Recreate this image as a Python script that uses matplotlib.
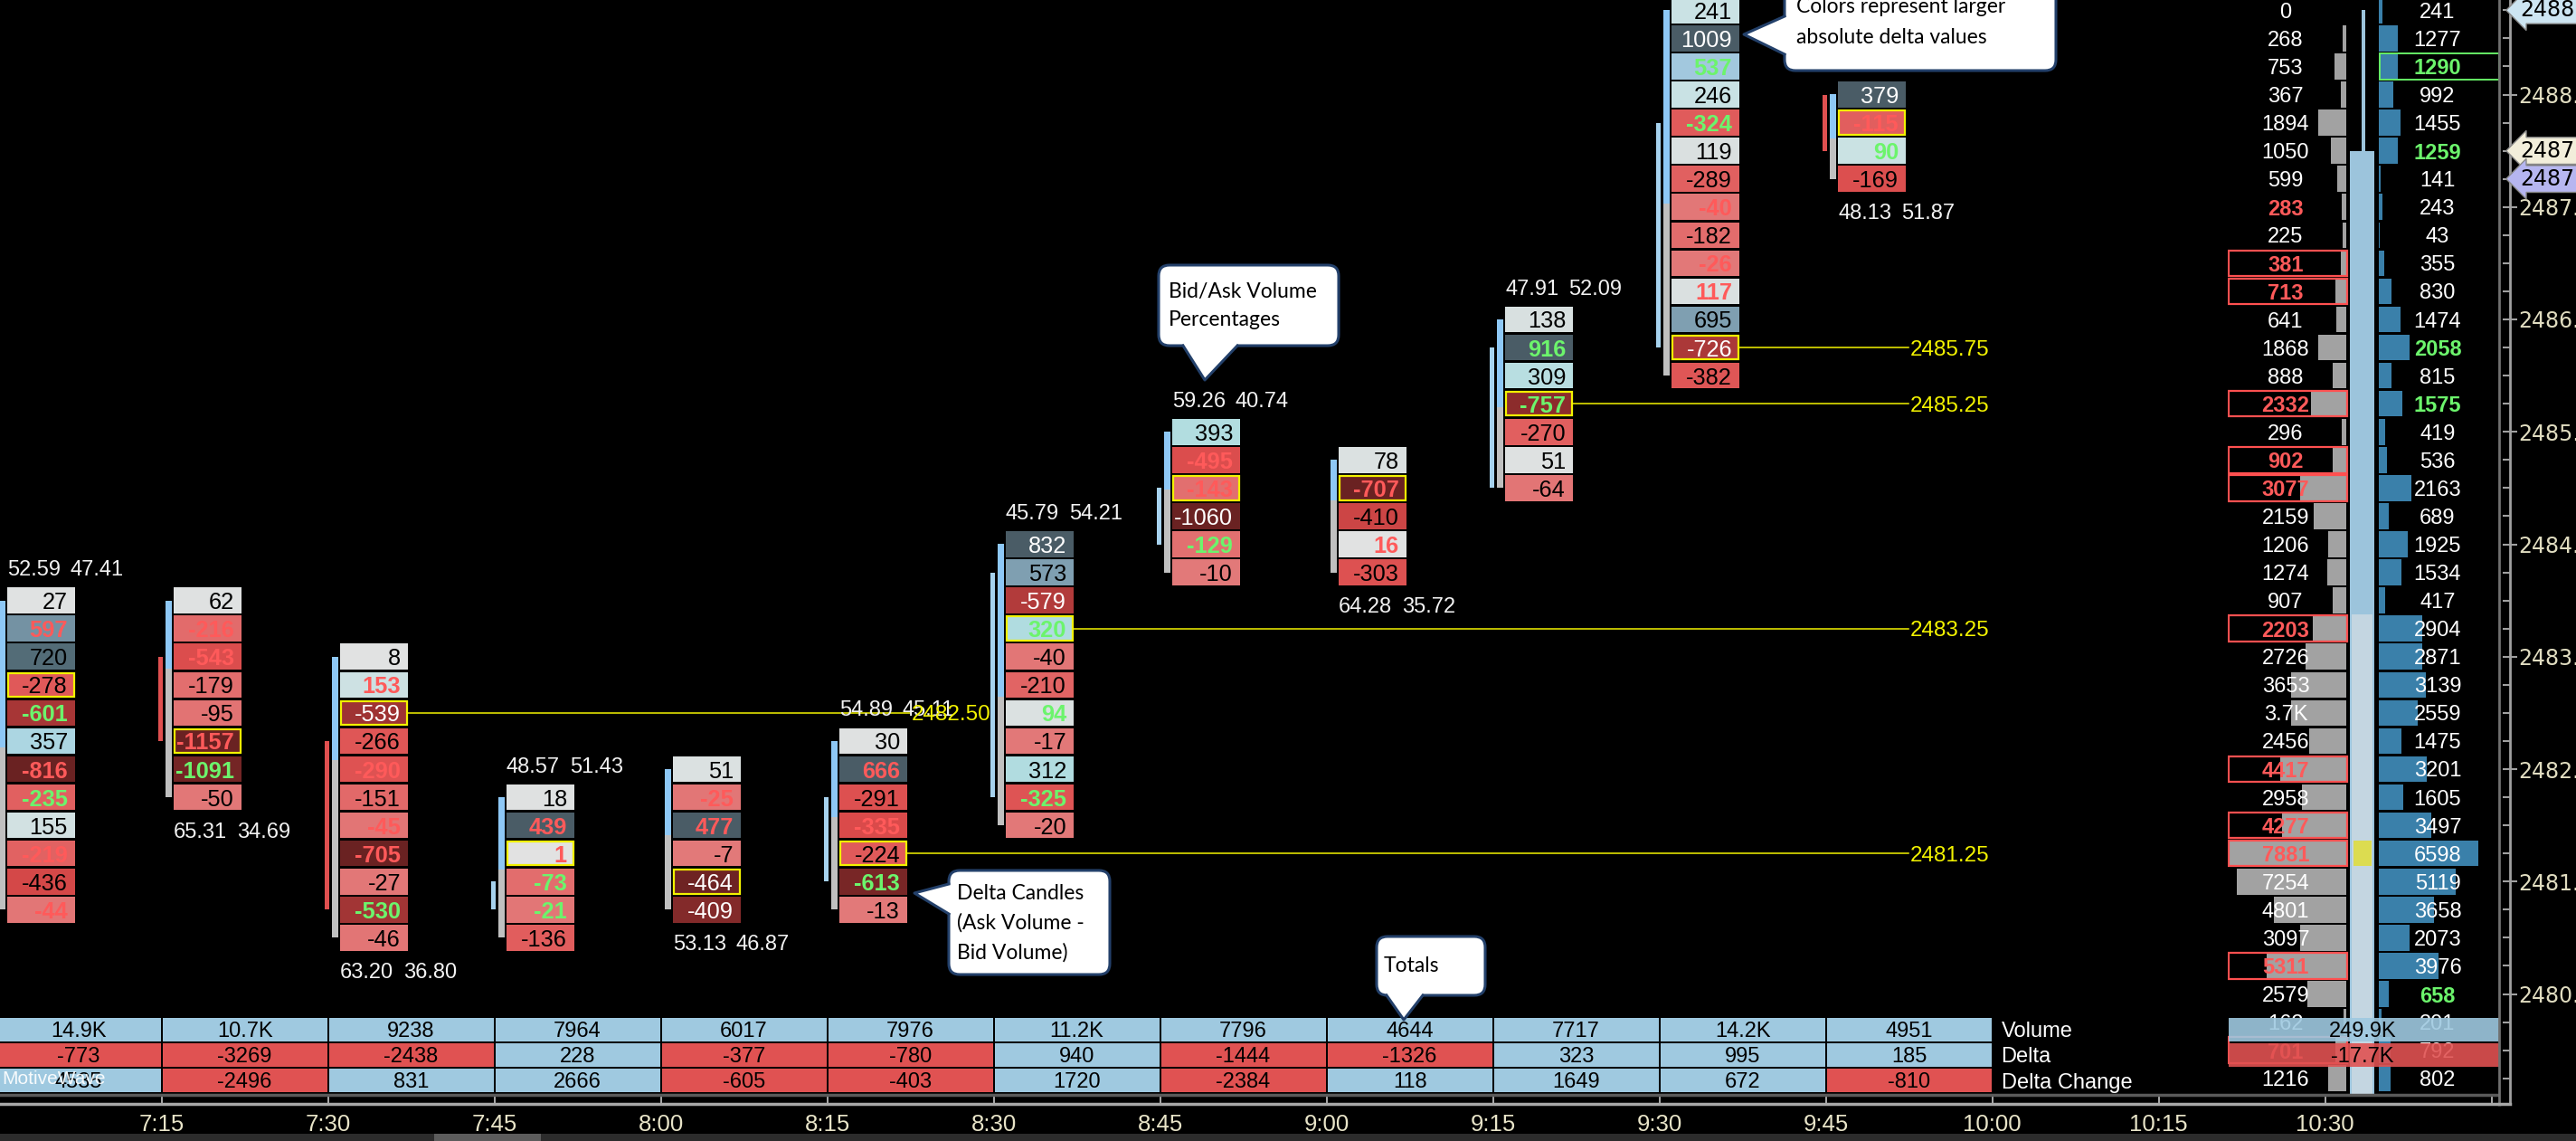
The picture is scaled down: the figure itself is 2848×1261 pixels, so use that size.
import numpy as np
import matplotlib.pyplot as plt
from matplotlib import font_manager
from matplotlib.colors import LinearSegmentedColormap
from matplotlib.patches import FancyBboxPatch, Polygon, Rectangle
from matplotlib.ticker import FormatStrFormatter
from matplotlib.transforms import blended_transform_factory

# footprint bars, one per 15 minutes
bar_start = ['7:00', '7:15', '7:30', '7:45', '8:00', '8:15',
             '8:30', '8:45', '9:00', '9:15', '9:30', '9:45']
bar_top = [2483.5, 2483.5, 2483.0, 2481.75, 2482.0, 2482.25,
           2484.0, 2485.0, 2484.75, 2486.0, 2488.75, 2488.0]
bar_delta = [
    [27, 597, 720, -278, -601, 357, -816, -235, 155, -219, -436, -44],
    [62, -216, -543, -179, -95, -1157, -1091, -50],
    [8, 153, -539, -266, -290, -151, -45, -705, -27, -530, -46],
    [18, 439, 1, -73, -21, -136],
    [51, -25, 477, -7, -464, -409],
    [30, 666, -291, -335, -224, -613, -13],
    [832, 573, -579, 320, -40, -210, 94, -17, 312, -325, -20],
    [393, -495, -143, -1060, -129, -10],
    [78, -707, -410, 16, -303],
    [138, 916, 309, -757, -270, 51, -64],
    [241, 1009, 537, 246, -324, 119, -289, -40, -182, -26, 117, 695, -726, -382],
    [379, -115, 90, -169],
]
# imbalance per cell: s = sell (red text), b = buy (green text)
bar_marks = ['.s..b.sb.s.s', '.ss..sb.', '.s..s.ss.b.', '.ssbb.', '.ss...',
             '.s.s.b.', '...b..b..b.', '.ss.b.', '.s.s.', '.b.b...',
             '..b.b..s.ss...', '.sb.']
poc_idx = [3, 5, 2, 2, 4, 4, 3, 2, 1, 3, 12, 1]
bid_pct = [52.59, 65.31, 63.20, 48.57, 53.13, 54.89, 45.79, 59.26, 64.28, 47.91, 47.02, 48.13]
ask_pct = [47.41, 34.69, 36.80, 51.43, 46.87, 45.11, 54.21, 40.74, 35.72, 52.09, 52.98, 51.87]
pct_above = [True, False, False, True, False, True, True, True, False, True, True, False]
# delta candles
dc_hi = [None, 2483.0, 2482.25, 2481.0, None, 2481.75, 2483.75, 2484.5, None, 2485.75, 2487.75, 2488.0]
dc_lo = [None, 2482.25, 2480.75, 2480.75, None, 2481.0, 2481.75, 2484.0, None, 2484.5, 2485.75, 2487.5]
dc_up = [None, False, False, True, None, True, True, True, None, True, True, False]
# naked POC lines: source bar -> last bar
naked_from = [2, 5, 6, 9, 10]
naked_until = [5, 11, 11, 11, 11]

# totals table
tot_volume = [14900, 10700, 9238, 7964, 6017, 7976, 11200, 7796, 4644, 7717, 14200, 4951]
tot_delta = [-773, -3269, -2438, 228, -377, -780, 940, -1444, -1326, 323, 995, 185]
tot_change = [4535, -2496, 831, 2666, -605, -403, 1720, -2384, 118, 1649, 672, -810]
row_names = ['Volume', 'Delta', 'Delta Change']

# session volume profile
prof_top = 2488.75
prof_bid = [0, 268, 753, 367, 1894, 1050, 599, 283, 225, 381, 713, 641, 1868, 888,
            2332, 296, 902, 3077, 2159, 1206, 1274, 907, 2203, 2726, 3653, 3700,
            2456, 4417, 2958, 4277, 7881, 7254, 4801, 3097, 5311, 2579, 162, 701, 1216]
prof_ask = [241, 1277, 1290, 992, 1455, 1259, 141, 243, 43, 355, 830, 1474, 2058, 815,
            1575, 419, 536, 2163, 689, 1925, 1534, 417, 2904, 2871, 3139, 2559,
            1475, 3201, 1605, 3497, 6598, 5119, 3658, 2073, 3976, 658, 201, 792, 802]
prof_bid_flag = '.......r.BB...B.BB....B....B.BB...B..B.'
prof_ask_flag = '..G..g......g.g....................g...'
prof_total_volume = 249900
prof_total_delta = -17700
prof_high = 2488.75
prof_open = 2487.5
prof_va_high = 2483.25
prof_poc = 2481.25

time_ticks = ['7:15', '7:30', '7:45', '8:00', '8:15', '8:30', '8:45', '9:00',
              '9:15', '9:30', '9:45', '10:00', '10:15', '10:30', '10:45']
price_tags = [2488.75, 2487.5, 2487.25]
tag_colors = ['#cde5f2', '#f2eedb', '#b6b6f0']

# ---- fonts ----
names = {f.name for f in font_manager.fontManager.ttflist}
if 'Liberation Sans Narrow' in names:
    FAM, K = 'Liberation Sans Narrow', 1.2
else:
    FAM, K = 'Liberation Sans', 1.0
plt.rcParams['font.family'] = [FAM, 'DejaVu Sans']

RED_TXT = '#ff5a5a'
GREEN_TXT = '#6cf46c'
YELLOW = '#f2f200'
BLUE_CELL = '#9fc9e0'
RED_CELL = '#e05252'

W, H = 2848, 1261
fig = plt.figure(figsize=(W / 100, H / 100), dpi=100, facecolor='black')


def frame(x0, y0, x1, y1):
    return [x0 / W, 1 - y1 / H, (x1 - x0) / W, (y1 - y0) / H]


MPX = 15 / 184      # minutes per pixel
PPX = 1 / 124.25    # price per pixel


def tmin(s):
    h, m = s.split(':')
    return int(h) * 60 + int(m)


def fx(px):
    return tmin('7:15') + (px - 178.6) * MPX


def fy(py):
    return 2488.0 - (py - 104.5) * PPX


def kfmt(v):
    return f'{v / 1000:.1f}K' if abs(v) >= 10000 else str(v)


pos_cmap = LinearSegmentedColormap.from_list('pos', [
    (0, '#e2e2e2'), (0.15, '#d8e0e0'), (0.25, '#c8e2e4'), (0.38, '#b0dce0'),
    (0.5, '#a8d0e4'), (0.56, '#9ec2da'), (0.7, '#7d9cae'), (0.85, '#56707c'), (1, '#4a5c66')])
neg_cmap = LinearSegmentedColormap.from_list('neg', [
    (0, '#e27a7a'), (0.2, '#e26a6a'), (0.35, '#e05858'), (0.5, '#da4a4a'),
    (0.65, '#c04040'), (0.75, '#a33535'), (0.85, '#852a2a'), (1, '#6a2222')])

# ---- main price panel ----
ax = fig.add_axes(frame(0, 0, 2763, 1210))
ax.set_facecolor('black')
ax.set_xlim(fx(0), fx(2763))
ax.set_ylim(fy(1210), fy(0))
ax.set_xticks([])
ax.set_yticks([])
for s in ax.spines.values():
    s.set_visible(False)

cell_h = 0.25 - 2.5 * PPX
for i, t in enumerate(bar_start):
    t0 = tmin(t)
    d = np.array(bar_delta[i])
    prices = bar_top[i] - 0.25 * np.arange(len(d))
    ratio = d / np.abs(d).max()
    left = t0 + 13.4 * MPX
    colors = [pos_cmap(r) if r >= 0 else neg_cmap(-r) for r in ratio]
    ax.bar(np.full(len(d), left), cell_h, width=75 * MPX, bottom=prices - cell_h / 2,
           align='edge', color=colors, zorder=2)
    for p, v, r, m in zip(prices, d, ratio, bar_marks[i]):
        if m == 's':
            c, fw = RED_TXT, 'bold'
        elif m == 'b':
            c, fw = GREEN_TXT, 'bold'
        else:
            c = 'white' if (r < -0.65 or r > 0.95) else 'black'
            fw = 'normal'
        ax.text(left + 67 * MPX, p, str(v), ha='right', va='center_baseline',
                color=c, fontweight=fw, fontsize=18.3 * K, zorder=6, clip_on=True)
    # point of control box
    pp = prices[poc_idx[i]]
    ax.bar(left + 1 * MPX, cell_h - 2 * PPX, width=73 * MPX, bottom=pp - cell_h / 2 + PPX,
           align='edge', fill=False, edgecolor=YELLOW, lw=1.6, zorder=4)
    # bid/ask split bar
    top_c, bot_c = prices[0], prices[-1]
    split = top_c - (top_c - bot_c) * ask_pct[i] / 100
    ax.bar(t0 + 4 * MPX, top_c - split, width=7 * MPX, bottom=split, align='edge',
           color='#8ec8f6', zorder=2)
    ax.bar(t0 + 4 * MPX, split - bot_c, width=7 * MPX, bottom=bot_c, align='edge',
           color='#c0c0c0', zorder=2)
    # delta candle
    if dc_hi[i] is not None:
        ax.bar(t0 - 4 * MPX, dc_hi[i] - dc_lo[i], width=5 * MPX, bottom=dc_lo[i], align='edge',
               color='#a6d2ee' if dc_up[i] else '#e05050', zorder=2)
    # percentages
    py = top_c + 36 * PPX if pct_above[i] else bot_c - 36 * PPX
    ax.text(left, py, f'{bid_pct[i]:.2f}', ha='left', va='center_baseline', color='#f2f2f2',
            fontsize=17 * K, zorder=6, clip_on=True)
    ax.text(t0 + 83.4 * MPX, py, f'{ask_pct[i]:.2f}', ha='left', va='center_baseline',
            color='#f2f2f2', fontsize=17 * K, zorder=6, clip_on=True)

for b, e in zip(naked_from, naked_until):
    p = bar_top[b] - 0.25 * poc_idx[b]
    xs = tmin(bar_start[b]) + 88.4 * MPX
    xe = tmin(bar_start[e]) + 91.4 * MPX
    ax.plot([xs, xe], [p, p], color=YELLOW, lw=1.1, zorder=3)
    ax.text(xe + 2 * MPX, p, f'{p:.2f}', color=YELLOW, ha='left', va='center_baseline',
            fontsize=17.5 * K, zorder=7)

# ---- volume profile ----
PV = 1 / 0.01662
pax = fig.add_axes(frame(2463, 0, 2763, 1210))
pax.patch.set_alpha(0)
pax.set_xlim(-131 * PV, 169 * PV)
pax.set_ylim(ax.get_ylim())
pax.axis('off')
prof_price = prof_top - 0.25 * np.arange(len(prof_bid))
pax.barh(prof_price, -np.array(prof_bid), height=cell_h, left=0, color='#a2a2a2', zorder=2)
pax.barh(prof_price, prof_ask, height=cell_h, left=36 * PV, color='#3a80aa', zorder=2)
pax.bar(4 * PV, prof_open - 2479.0, width=27 * PV, bottom=2479.0, align='edge',
        color='#9cc4dc', zorder=1)
pax.bar(6 * PV, prof_va_high + 0.125 - 2479.0, width=23 * PV, bottom=2479.0, align='edge',
        color='#c4d6e1', zorder=1)
pax.bar(17 * PV, prof_high - prof_open, width=4 * PV, bottom=prof_open, align='edge',
        color='#9cc4dc', zorder=1)
pax.bar(8 * PV, cell_h, width=20 * PV, bottom=prof_poc - cell_h / 2, align='edge',
        color='#dcdc50', zorder=2)
bid_txt = [str(v) for v in prof_bid]
bid_txt[25] = '3.7K'
for p, bt, a, fb, fa in zip(prof_price, bid_txt, prof_ask, prof_bid_flag, prof_ask_flag):
    hot = fb in 'rB'
    pax.text(-67 * PV, p, bt, ha='center', va='center_baseline', fontsize=17 * K,
             color=RED_TXT if hot else 'white', fontweight='bold' if hot else 'normal', zorder=5)
    if fb == 'B':
        pax.bar(-130 * PV, cell_h, width=131 * PV, bottom=p - cell_h / 2, align='edge',
                fill=False, edgecolor='#ff5050', lw=1.6, zorder=4)
    hot = fa in 'gG'
    pax.text(101 * PV, p, str(a), ha='center', va='center_baseline', fontsize=17 * K,
             color=GREEN_TXT if hot else 'white', fontweight='bold' if hot else 'normal', zorder=5)
    if fa == 'G':
        pax.bar(37 * PV, cell_h, width=132 * PV, bottom=p - cell_h / 2, align='edge',
                fill=False, edgecolor='#66ee66', lw=1.4, zorder=4)

# ---- totals table ----
tb = fig.add_axes(frame(0, 1124, 2763, 1208))
tb.patch.set_alpha(0)
tb.set_xlim(ax.get_xlim())
tb.set_ylim(3, 0)
tb.axis('off')
for r, vals in enumerate([tot_volume, tot_delta, tot_change]):
    colors = [BLUE_CELL if (r == 0 or v >= 0) else RED_CELL for v in vals]
    tb.bar([tmin(t) + MPX for t in bar_start], 0.92, width=182 * MPX, bottom=r + 0.04,
           align='edge', color=colors)
    for t, v in zip(bar_start, vals):
        tb.text(tmin(t) + 92 * MPX, r + 0.5, kfmt(v), ha='center', va='center_baseline',
                fontsize=17 * K, color='black', clip_on=True)
for r, name in enumerate(row_names):
    tb.text(tmin('10:00') + 10 * MPX, r + 0.5, name, ha='left', va='center_baseline',
            fontsize=17 * K, color='white')

ptb = fig.add_axes(frame(2463, 1124, 2763, 1208))
ptb.patch.set_alpha(0)
ptb.set_xlim(pax.get_xlim())
ptb.set_ylim(3, 0)
ptb.axis('off')
for r, v in enumerate([prof_total_volume, prof_total_delta]):
    ptb.bar(-130 * PV, 0.92, width=299 * PV, bottom=r + 0.04, align='edge',
            color=BLUE_CELL if (r == 0 or v >= 0) else RED_CELL, alpha=0.9)
    ptb.text(18 * PV, r + 0.5, kfmt(v), ha='center', va='center_baseline',
             fontsize=17 * K, color='black')

# ---- time axis ----
tax = fig.add_axes(frame(0, 1210, 2763, 1220))
tax.set_facecolor('black')
tax.set_xlim(ax.get_xlim())
tax.set_yticks([])
tax.set_xticks([tmin(t) for t in time_ticks])
tax.set_xticklabels(time_ticks[:-1] + [''])
tax.tick_params(axis='x', direction='in', length=6, width=1.2, color='#c8c8c8',
                labelcolor='#e8e4c8', labelsize=18.5 * K, pad=8)
for side in ['left', 'right']:
    tax.spines[side].set_visible(False)
tax.spines['top'].set_color('#5a5a5a')
tax.spines['top'].set_linewidth(2.5)
tax.spines['bottom'].set_color('#a8a8a8')
tax.spines['bottom'].set_linewidth(2.5)

# ---- price axis ----
rax = fig.add_axes(frame(2763, 0, 2775, 1220))
rax.set_facecolor('black')
rax.set_ylim(fy(1220), fy(0))
rax.set_xticks([])
rax.yaxis.tick_right()
rax.set_yticks(np.arange(2480, 2489, 1.0))
rax.set_yticks(np.arange(2479.25, 2489, 0.25), minor=True)
rax.yaxis.set_major_formatter(FormatStrFormatter('%.1f'))
rax.tick_params(axis='y', which='major', direction='inout', length=12, width=1.5,
                color='#a0a0a0', labelcolor='#e0dcc0', labelsize=17, pad=1)
rax.tick_params(axis='y', which='minor', direction='in', length=6, width=1.5, color='#a0a0a0')
for lbl in rax.get_yticklabels():
    lbl.set_family('DejaVu Sans')
rax.spines['top'].set_visible(False)
rax.spines['left'].set_color('#707070')
rax.spines['left'].set_linewidth(2)
rax.spines['right'].set_color('#a0a0a0')
rax.spines['right'].set_linewidth(2)
rax.spines['bottom'].set_color('#a8a8a8')
rax.spines['bottom'].set_linewidth(2.5)
tr = blended_transform_factory(rax.transAxes, rax.transData)
for p, c in zip(price_tags, tag_colors):
    rax.text(1.95, p, f'{p:.2f}', transform=tr, fontsize=17, family='DejaVu Sans',
             color='black', ha='left', va='center', clip_on=False, zorder=8,
             bbox=dict(boxstyle='larrow,pad=0.12', fc=c, ec='#8a8a8a', lw=1))

# ---- overlay: callouts, watermark, scrollbar ----
ov = fig.add_axes([0, 0, 1, 1])
ov.set_xlim(0, W)
ov.set_ylim(H, 0)
ov.axis('off')
EDGE = '#23406a'


def callout(box, side, a, b, tip, lines, tx, ty, gap):
    x0, y0, x1, y1 = box
    ov.add_patch(FancyBboxPatch((x0, y0), x1 - x0, y1 - y0,
                                boxstyle='round,pad=0,rounding_size=12',
                                fc='white', ec=EDGE, lw=2.2, zorder=10))
    if side == 'left':
        p1, p2 = (x0, a), (x0, b)
        q1, q2 = (x0 + 4, a), (x0 + 4, b)
    else:
        p1, p2 = (a, y1), (b, y1)
        q1, q2 = (a, y1 - 4), (b, y1 - 4)
    ov.add_patch(Polygon([q1, p1, tip, p2, q2], closed=True, fc='white', ec='none', zorder=11))
    ov.plot([p1[0], tip[0], p2[0]], [p1[1], tip[1], p2[1]], color=EDGE, lw=2.2, zorder=12)
    for k, s in enumerate(lines):
        ov.text(tx, ty + k * gap, s, ha='left', va='center', fontsize=16.5,
                family=['Lato', 'DejaVu Sans'], color='black', zorder=13)


callout((1973, -40, 2273, 78), 'left', 18, 60, (1928, 38),
        ['Colors represent larger', 'absolute delta values'], 1986, 8, 34)
callout((1281, 293, 1480, 382), 'bottom', 1308, 1368, (1332, 420),
        ['Bid/Ask Volume', 'Percentages'], 1292, 322, 32)
callout((1049, 962, 1227, 1077), 'left', 977, 1010, (1011, 987),
        ['Delta Candles', '(Ask Volume -', 'Bid Volume)'], 1058, 987, 33)
callout((1522, 1035, 1642, 1100), 'bottom', 1533, 1573, (1552, 1127),
        ['Totals'], 1530, 1068, 0)

ov.text(2, 1193, 'MotiveWave', color='white', alpha=0.92, fontsize=15 * K,
        ha='left', va='center', zorder=9)
ov.add_patch(Rectangle((0, 1253), W, 8, fc='#2c2c2c', ec='none'))
ov.add_patch(Rectangle((480, 1253), 118, 8, fc='#5c5c5c', ec='none'))

fig.savefig('out.png', dpi=100, facecolor='black')
